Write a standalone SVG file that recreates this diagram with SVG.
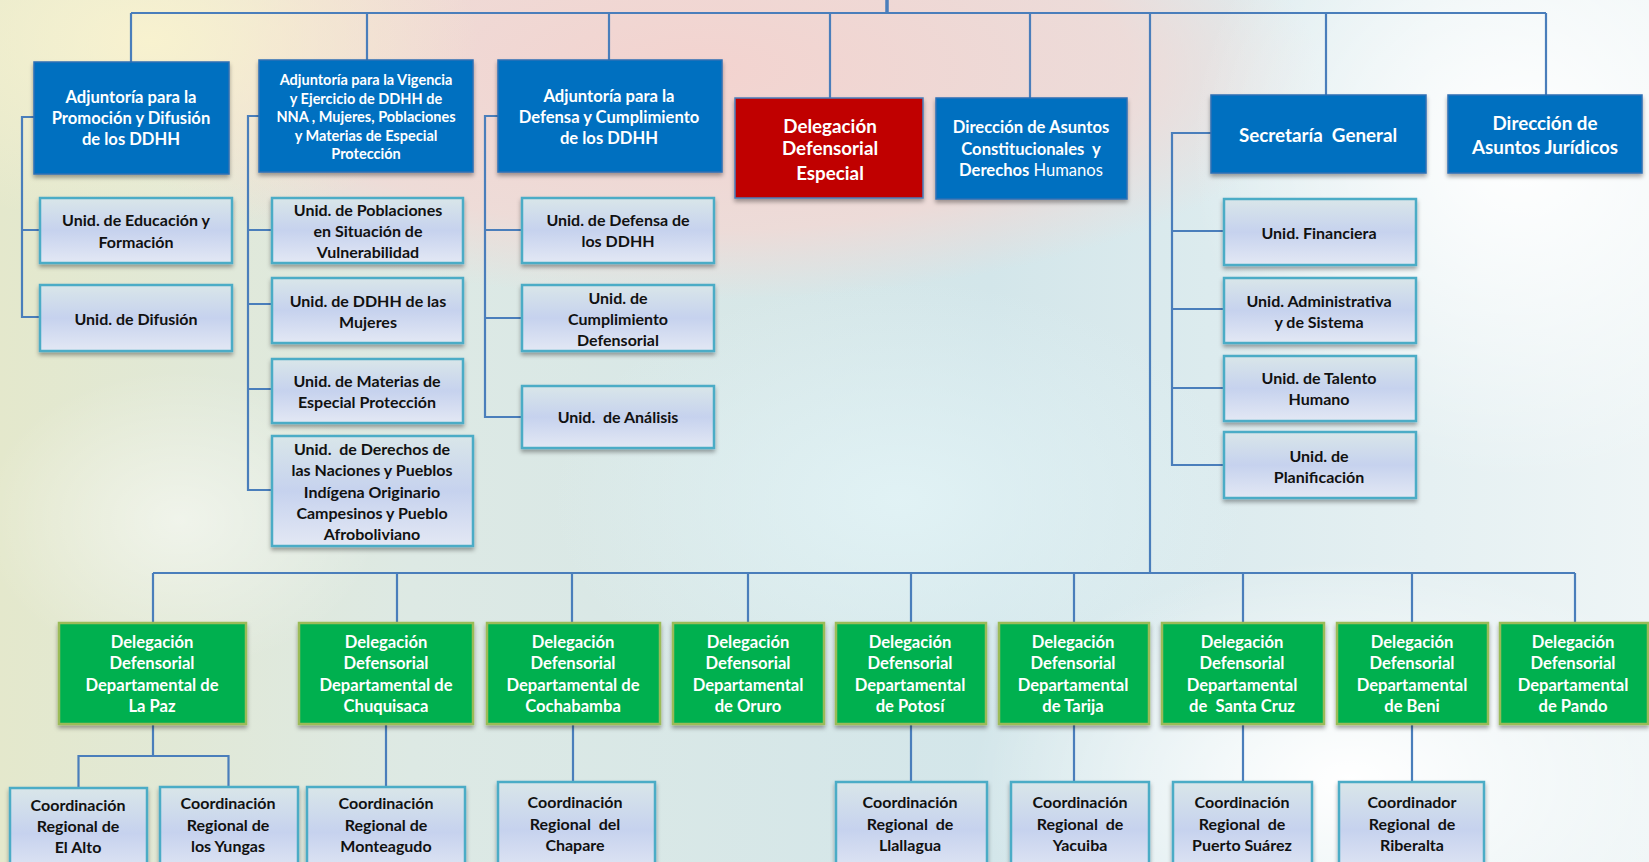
<svg xmlns="http://www.w3.org/2000/svg" width="1649" height="862" viewBox="0 0 1649 862" xml:space="preserve">
<style>
.blue{fill:#0070c0;stroke:#2f6fb5;stroke-width:1.5}
.red{fill:#c00000;stroke:#4a7ebb;stroke-width:1.5}
.green{fill:#00b050;stroke:#9bbb59;stroke-width:2.5}
.light{fill:url(#lg);stroke:#4bacc6;stroke-width:2.5}
.sh{filter:url(#ds)}
text{font-family:Lato,"Open Sans","Liberation Sans",sans-serif;font-weight:700;text-anchor:middle;white-space:pre}
.w{fill:#ffffff}
.k{fill:#111111}
.f13{font-size:14.5px}
.f15{font-size:16px}
.f16{font-size:16.6px}
.f18{font-size:18.8px}
.conn path{fill:none;stroke:#4a7ebb;stroke-width:2.2}
</style>
<defs>
<linearGradient id="lg" x1="0" y1="0" x2="0" y2="1">
<stop offset="0" stop-color="#d9e6e9"/>
<stop offset="0.5" stop-color="#c6d2ee"/>
<stop offset="1" stop-color="#e3e8f4"/>
</linearGradient>
<linearGradient id="bg0" x1="0" y1="0" x2="1" y2="0">
<stop offset="0" stop-color="#e4e8cc"/>
<stop offset="0.25" stop-color="#dde9e4"/>
<stop offset="0.6" stop-color="#d3e6ea"/>
<stop offset="1" stop-color="#eef5f6"/>
</linearGradient>
<radialGradient id="pink" cx="0.5" cy="0.5" r="0.5">
<stop offset="0" stop-color="#f3d3cf" stop-opacity="1"/>
<stop offset="0.7" stop-color="#f2d8d4" stop-opacity="0.8"/>
<stop offset="1" stop-color="#f2d8d4" stop-opacity="0"/>
</radialGradient>
<radialGradient id="yel" cx="0.5" cy="0.5" r="0.5">
<stop offset="0" stop-color="#f8f2cf" stop-opacity="1"/>
<stop offset="1" stop-color="#f8f2cf" stop-opacity="0"/>
</radialGradient>
<radialGradient id="wht" cx="0.5" cy="0.5" r="0.5">
<stop offset="0" stop-color="#ffffff" stop-opacity="1"/>
<stop offset="1" stop-color="#ffffff" stop-opacity="0"/>
</radialGradient>
<radialGradient id="cy" cx="0.5" cy="0.5" r="0.5">
<stop offset="0" stop-color="#e2f3f6" stop-opacity="0.9"/>
<stop offset="1" stop-color="#e2f3f6" stop-opacity="0"/>
</radialGradient>
<filter id="ds" x="-10%" y="-10%" width="120%" height="130%">
<feDropShadow dx="0" dy="3" stdDeviation="2" flood-color="#000" flood-opacity="0.35"/>
</filter>
</defs>

<g id="background">
<rect x="0" y="0" width="1649" height="862" fill="url(#bg0)"/>
<ellipse cx="700" cy="70" rx="620" ry="230" fill="url(#pink)"/>
<ellipse cx="150" cy="40" rx="330" ry="190" fill="url(#yel)"/>
<ellipse cx="1520" cy="150" rx="330" ry="330" fill="url(#wht)"/>
<ellipse cx="1350" cy="780" rx="380" ry="220" fill="url(#wht)"/>
<ellipse cx="180" cy="520" rx="200" ry="150" fill="url(#wht)" opacity="0.5"/>
<ellipse cx="900" cy="500" rx="350" ry="220" fill="url(#cy)"/>
</g>

<g class="conn" id="connectors">
<path d="M887 0V13" style="stroke-width:3.5"/>
<path d="M131 13H1546"/>
<path d="M131 13V62M367 13V60M609 13V60M830 13V98M1030 13V98M1326 13V95M1546 13V95"/>
<path d="M1150 13V573"/>
<path d="M153 573H1575"/>
<path d="M153 573V623M397 573V623M572 573V623M748 573V623M911 573V623M1074 573V623M1243 573V623M1412 573V623M1575 573V623"/>
<path d="M34 117H22V317H40M22 230H40"/>
<path d="M259 116H248V490H272M248 230H272M248 304H272M248 389H272"/>
<path d="M498 116H485V417H522M485 230H522M485 318H522"/>
<path d="M1211 133H1172V465H1224M1172 231H1224M1172 309H1224M1172 388H1224"/>
<path d="M153 724V756M78.5 788V756H228.5V788"/>
<path d="M386 724V787M573 724V782M911 724V782M1074 724V782M1243 724V782M1412 724V782"/>
</g>

<g id="n-promocion">
<rect class="blue sh" x="34" y="62" width="195" height="112"/>
<text class="w f16"><tspan x="131" y="103">Adjuntoría para la</tspan><tspan x="131" y="124">Promoción y Difusión</tspan><tspan x="131" y="145">de los DDHH</tspan></text>
</g>
<g id="n-vigencia">
<rect class="blue sh" x="259" y="60" width="214" height="112"/>
<text class="w f13"><tspan x="366" y="85">Adjuntoría para la Vigencia</tspan><tspan x="366" y="103.5">y Ejercicio de DDHH de</tspan><tspan x="366" y="122">NNA , Mujeres, Poblaciones</tspan><tspan x="366" y="140.5">y Materias de Especial</tspan><tspan x="366" y="159">Protección</tspan></text>
</g>
<g id="n-defensa">
<rect class="blue sh" x="498" y="60" width="224" height="112"/>
<text class="w f16"><tspan x="609" y="102">Adjuntoría para la</tspan><tspan x="609" y="123">Defensa y Cumplimiento</tspan><tspan x="609" y="144">de los DDHH</tspan></text>
</g>
<g id="n-especial">
<rect class="red sh" x="735" y="98" width="188" height="100"/>
<text class="w f18"><tspan x="830" y="133">Delegación</tspan><tspan x="830" y="155">Defensorial</tspan><tspan x="830" y="179.5">Especial</tspan></text>
</g>
<g id="n-constitucionales">
<rect class="blue sh" x="936" y="98" width="191" height="101"/>
<text class="w f16"><tspan x="1031" y="133">Dirección de Asuntos</tspan><tspan x="1031" y="155">Constitucionales  y</tspan><tspan x="1031" y="176">Derechos <tspan style="font-weight:400">Humanos</tspan></tspan></text>
</g>
<g id="n-secretaria">
<rect class="blue sh" x="1211" y="95" width="215" height="78"/>
<text class="w f18"><tspan x="1318" y="141.5">Secretaría  General</tspan></text>
</g>
<g id="n-juridicos">
<rect class="blue sh" x="1448" y="95" width="194" height="78"/>
<text class="w f18"><tspan x="1545" y="129.5">Dirección de</tspan><tspan x="1545" y="153.5">Asuntos Jurídicos</tspan></text>
</g>

<g id="n-educacion">
<rect class="light sh" x="40" y="198" width="192" height="65"/>
<text class="k f15"><tspan x="136" y="225.5">Unid. de Educación y</tspan><tspan x="136" y="247.5">Formación</tspan></text>
</g>
<g id="n-difusion">
<rect class="light sh" x="40" y="285" width="192" height="66"/>
<text class="k f15"><tspan x="136" y="324.5">Unid. de Difusión</tspan></text>
</g>
<g id="n-poblaciones">
<rect class="light sh" x="272" y="198" width="191" height="65"/>
<text class="k f15"><tspan x="368" y="215.5">Unid. de Poblaciones</tspan><tspan x="368" y="236.5">en Situación de</tspan><tspan x="368" y="257.5">Vulnerabilidad</tspan></text>
</g>
<g id="n-mujeres">
<rect class="light sh" x="272" y="278" width="191" height="65"/>
<text class="k f15"><tspan x="368" y="306.5">Unid. de DDHH de las</tspan><tspan x="368" y="327.5">Mujeres</tspan></text>
</g>
<g id="n-materias">
<rect class="light sh" x="272" y="359" width="191" height="64"/>
<text class="k f15"><tspan x="367" y="386.5">Unid. de Materias de</tspan><tspan x="367" y="407.5">Especial Protección</tspan></text>
</g>
<g id="n-naciones">
<rect class="light sh" x="272" y="436" width="201" height="110"/>
<text class="k f15"><tspan x="372" y="454.5">Unid.  de Derechos de</tspan><tspan x="372" y="476">las Naciones y Pueblos</tspan><tspan x="372" y="497.5">Indígena Originario</tspan><tspan x="372" y="518.5">Campesinos y Pueblo</tspan><tspan x="372" y="539.5">Afroboliviano</tspan></text>
</g>
<g id="n-defensaddhh">
<rect class="light sh" x="522" y="198" width="192" height="65"/>
<text class="k f15"><tspan x="618" y="225.5">Unid. de Defensa de</tspan><tspan x="618" y="246.5">los DDHH</tspan></text>
</g>
<g id="n-cumplimiento">
<rect class="light sh" x="522" y="285" width="192" height="66"/>
<text class="k f15"><tspan x="618" y="303.5">Unid. de</tspan><tspan x="618" y="324.5">Cumplimiento</tspan><tspan x="618" y="345.5">Defensorial</tspan></text>
</g>
<g id="n-analisis">
<rect class="light sh" x="522" y="386" width="192" height="62"/>
<text class="k f15"><tspan x="618" y="422.5">Unid.  de Análisis</tspan></text>
</g>
<g id="n-financiera">
<rect class="light sh" x="1224" y="199" width="192" height="66"/>
<text class="k f15"><tspan x="1319" y="238.5">Unid. Financiera</tspan></text>
</g>
<g id="n-administrativa">
<rect class="light sh" x="1224" y="278" width="192" height="65"/>
<text class="k f15"><tspan x="1319" y="306.5">Unid. Administrativa</tspan><tspan x="1319" y="327.5">y de Sistema</tspan></text>
</g>
<g id="n-talento">
<rect class="light sh" x="1224" y="356" width="192" height="65"/>
<text class="k f15"><tspan x="1319" y="383.5">Unid. de Talento</tspan><tspan x="1319" y="404.5">Humano</tspan></text>
</g>
<g id="n-planificacion">
<rect class="light sh" x="1224" y="432" width="192" height="66"/>
<text class="k f15"><tspan x="1319" y="461.5">Unid. de</tspan><tspan x="1319" y="482.5">Planificación</tspan></text>
</g>

<g id="n-lapaz">
<rect class="green sh" x="59" y="623" width="187" height="101"/>
<text class="w f16"><tspan x="152" y="648">Delegación</tspan><tspan x="152" y="669">Defensorial</tspan><tspan x="152" y="691">Departamental de</tspan><tspan x="152" y="712">La Paz</tspan></text>
</g>
<g id="n-chuquisaca">
<rect class="green sh" x="299" y="623" width="174" height="101"/>
<text class="w f16"><tspan x="386" y="648">Delegación</tspan><tspan x="386" y="669">Defensorial</tspan><tspan x="386" y="691">Departamental de</tspan><tspan x="386" y="712">Chuquisaca</tspan></text>
</g>
<g id="n-cochabamba">
<rect class="green sh" x="487" y="623" width="173" height="101"/>
<text class="w f16"><tspan x="573" y="648">Delegación</tspan><tspan x="573" y="669">Defensorial</tspan><tspan x="573" y="691">Departamental de</tspan><tspan x="573" y="712">Cochabamba</tspan></text>
</g>
<g id="n-oruro">
<rect class="green sh" x="673" y="623" width="151" height="101"/>
<text class="w f16"><tspan x="748" y="648">Delegación</tspan><tspan x="748" y="669">Defensorial</tspan><tspan x="748" y="691">Departamental</tspan><tspan x="748" y="712">de Oruro</tspan></text>
</g>
<g id="n-potosi">
<rect class="green sh" x="836" y="623" width="150" height="101"/>
<text class="w f16"><tspan x="910" y="648">Delegación</tspan><tspan x="910" y="669">Defensorial</tspan><tspan x="910" y="691">Departamental</tspan><tspan x="910" y="712">de Potosí</tspan></text>
</g>
<g id="n-tarija">
<rect class="green sh" x="999" y="623" width="150" height="101"/>
<text class="w f16"><tspan x="1073" y="648">Delegación</tspan><tspan x="1073" y="669">Defensorial</tspan><tspan x="1073" y="691">Departamental</tspan><tspan x="1073" y="712">de Tarija</tspan></text>
</g>
<g id="n-santacruz">
<rect class="green sh" x="1162" y="623" width="162" height="101"/>
<text class="w f16"><tspan x="1242" y="648">Delegación</tspan><tspan x="1242" y="669">Defensorial</tspan><tspan x="1242" y="691">Departamental</tspan><tspan x="1242" y="712">de  Santa Cruz</tspan></text>
</g>
<g id="n-beni">
<rect class="green sh" x="1337" y="623" width="151" height="101"/>
<text class="w f16"><tspan x="1412" y="648">Delegación</tspan><tspan x="1412" y="669">Defensorial</tspan><tspan x="1412" y="691">Departamental</tspan><tspan x="1412" y="712">de Beni</tspan></text>
</g>
<g id="n-pando">
<rect class="green sh" x="1500" y="623" width="148" height="101"/>
<text class="w f16"><tspan x="1573" y="648">Delegación</tspan><tspan x="1573" y="669">Defensorial</tspan><tspan x="1573" y="691">Departamental</tspan><tspan x="1573" y="712">de Pando</tspan></text>
</g>

<g id="n-elalto">
<rect class="light sh" x="10" y="788" width="137" height="90"/>
<text class="k f15"><tspan x="78" y="810.5">Coordinación</tspan><tspan x="78" y="831.5">Regional de</tspan><tspan x="78" y="852.5">El Alto</tspan></text>
</g>
<g id="n-yungas">
<rect class="light sh" x="160" y="787" width="138" height="90"/>
<text class="k f15"><tspan x="228" y="808.5">Coordinación</tspan><tspan x="228" y="830.5">Regional de</tspan><tspan x="228" y="851.5">los Yungas</tspan></text>
</g>
<g id="n-monteagudo">
<rect class="light sh" x="307" y="787" width="158" height="90"/>
<text class="k f15"><tspan x="386" y="808.5">Coordinación</tspan><tspan x="386" y="830.5">Regional de</tspan><tspan x="386" y="851.5">Monteagudo</tspan></text>
</g>
<g id="n-chapare">
<rect class="light sh" x="498" y="782" width="157" height="95"/>
<text class="k f15"><tspan x="575" y="807.5">Coordinación</tspan><tspan x="575" y="829.5">Regional  del</tspan><tspan x="575" y="850.5">Chapare</tspan></text>
</g>
<g id="n-llallagua">
<rect class="light sh" x="836" y="782" width="151" height="95"/>
<text class="k f15"><tspan x="910" y="807.5">Coordinación</tspan><tspan x="910" y="829.5">Regional  de</tspan><tspan x="910" y="850.5">Llallagua</tspan></text>
</g>
<g id="n-yacuiba">
<rect class="light sh" x="1011" y="782" width="138" height="95"/>
<text class="k f15"><tspan x="1080" y="807.5">Coordinación</tspan><tspan x="1080" y="829.5">Regional  de</tspan><tspan x="1080" y="850.5">Yacuiba</tspan></text>
</g>
<g id="n-puertosuarez">
<rect class="light sh" x="1173" y="782" width="139" height="95"/>
<text class="k f15"><tspan x="1242" y="807.5">Coordinación</tspan><tspan x="1242" y="829.5">Regional  de</tspan><tspan x="1242" y="850.5">Puerto Suárez</tspan></text>
</g>
<g id="n-riberalta">
<rect class="light sh" x="1339" y="782" width="145" height="95"/>
<text class="k f15"><tspan x="1412" y="807.5">Coordinador</tspan><tspan x="1412" y="829.5">Regional  de</tspan><tspan x="1412" y="850.5">Riberalta</tspan></text>
</g>
</svg>
